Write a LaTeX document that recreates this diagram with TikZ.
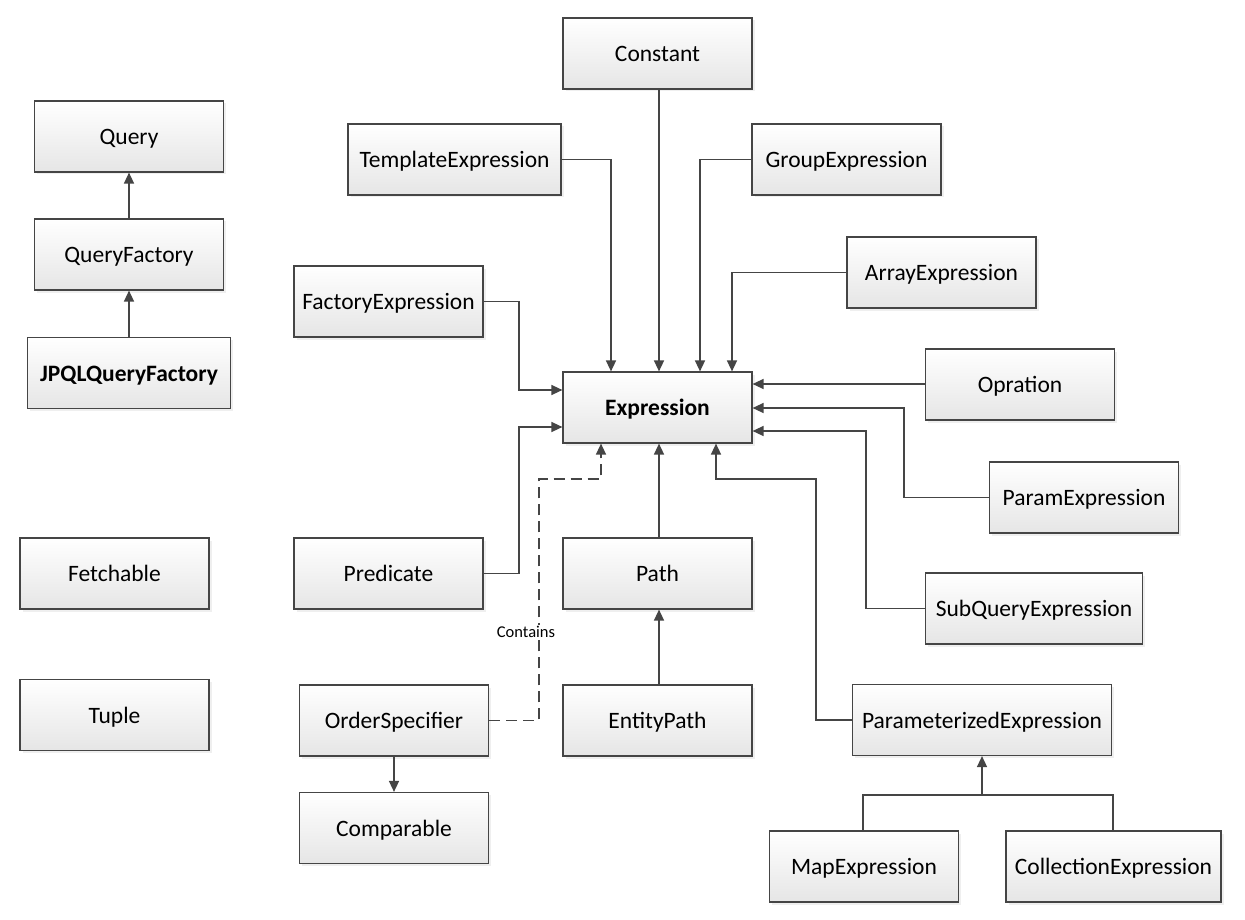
\documentclass[tikz,border=0pt]{standalone}
\usepackage{fontspec}
\setmainfont{Carlito}
\usetikzlibrary{arrows.meta,shadows}
\definecolor{lc}{HTML}{454545}
\tikzset{
  box/.style={draw=lc, line width=1.2pt, top color=white, bottom color=black!10,
    drop shadow={shadow xshift=2.5pt, shadow yshift=-2.5pt, fill=black!12, opacity=0.5},
    font=\fontsize{23.5}{28}\selectfont, text height=18pt, text depth=2pt,
    inner sep=0pt, minimum height=71pt},
  conn/.style={draw=lc, line width=1.5pt, -{Triangle[length=11pt,width=10pt]}},
  dashconn/.style={conn, dash pattern=on 11pt off 6pt},
  lbl/.style={font=\fontsize{16.5}{18}\selectfont, fill=white, inner sep=1pt}
}
\begin{document}
\begin{tikzpicture}[x=1pt,y=-1pt]
\useasboundingbox[fill=white] (0,0) rectangle (1245,920);
% left column
\node[box, minimum width=189pt] (query) at (129,136.5) {Query};
\node[box, minimum width=189pt] (qf) at (129,254.5) {QueryFactory};
\node[box, minimum width=203pt] (jpql) at (129,373) {\textbf{JPQLQueryFactory}};
\node[box, minimum width=189pt] (fetch) at (114.5,573.5) {Fetchable};
\node[box, minimum width=189pt] (tuple) at (114.5,715) {Tuple};
% center
\node[box, minimum width=189pt] (const) at (657.5,53.5) {Constant};
\node[box, minimum width=213pt] (templ) at (454.5,159.5) {TemplateExpression};
\node[box, minimum width=189pt] (group) at (846.5,159.5) {GroupExpression};
\node[box, minimum width=189pt] (array) at (941.5,272.5) {ArrayExpression};
\node[box, minimum width=189pt] (factory) at (388.5,301.5) {FactoryExpression};
\node[box, minimum width=189pt] (opr) at (1020,384.5) {Opration};
\node[box, minimum width=189pt] (expr) at (657.5,407.5) {\textbf{Expression}};
\node[box, minimum width=189pt] (param) at (1084,497.5) {ParamExpression};
\node[box, minimum width=189pt] (pred) at (388.5,573.5) {Predicate};
\node[box, minimum width=189pt] (path) at (657.5,573.5) {Path};
\node[box, minimum width=217pt] (subq) at (1034,608.5) {SubQueryExpression};
\node[box, minimum width=189pt] (order) at (394,720.5) {OrderSpecifier};
\node[box, minimum width=189pt] (entity) at (657.5,720.5) {EntityPath};
\node[box, minimum width=259pt] (paramz) at (982,720) {ParameterizedExpression};
\node[box, minimum width=189pt] (comp) at (394,828) {Comparable};
\node[box, minimum width=189pt] (map) at (864,866.5) {MapExpression};
\node[box, minimum width=215pt] (coll) at (1113.5,866.5) {CollectionExpression};
% coordinates
\coordinate (j1) at (982,795);
% connectors
\draw[conn] (qf) -- (query);
\draw[conn] (jpql) -- (qf);
\draw[conn] (const.south -| 659,0) -- (expr.north -| 659,0);
\draw[conn] (templ.east) -| (expr.north -| 611,0);
\draw[conn] (group.west) -| (expr.north -| 700,0);
\draw[conn] (array.west) -| (expr.north -| 732,0);
\draw[conn] (factory.east) -| (519,390) -- (expr.west |- 0,390);
\draw[conn] (pred.east) -| (519,427) -- (expr.west |- 0,427);
\draw[conn] (opr.west |- 0,384) -- (expr.east |- 0,384);
\draw[conn] (param.west) -| (904,408) -- (expr.east |- 0,408);
\draw[conn] (subq.west) -| (866,431) -- (expr.east |- 0,431);
\draw[conn] (paramz.west) -| (816,479) -| (expr.south -| 716,0);
\draw[conn] (path.north -| 659,0) -- (expr.south -| 659,0);
\draw[conn] (entity.north -| 659,0) -- (path.south -| 659,0);
\draw[dashconn] (order.east) -| (539,479) -| (expr.south -| 601,0);
\node[lbl] (contains) at (526,632) {Contains};
\draw[conn] (order) -- (comp);
\draw[draw=lc, line width=1.5pt] (map.north -| 863,0) |- (j1);
\draw[draw=lc, line width=1.5pt] (coll.north -| 1113,0) |- (j1);
\draw[conn] (j1) -- (paramz.south -| j1);
\end{tikzpicture}
\end{document}
